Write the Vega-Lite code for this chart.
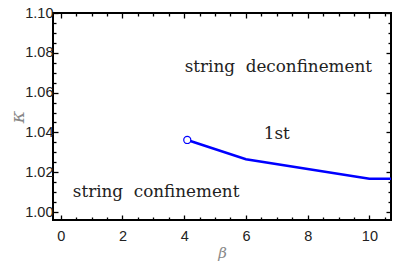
{
  "$schema": "https://vega.github.io/schema/vega-lite/v6.json",
  "width": 338,
  "height": 207,
  "autosize": {"type": "none"},
  "padding": {"left": 53, "top": 13, "right": 8, "bottom": 46},
  "background": "white",
  "config": {
    "view": {"stroke": "black", "strokeWidth": 2},
    "axis": {"domain": false, "grid": false, "labelFont": "Liberation Sans", "labelFontSize": 14.5, "labelColor": "#222", "tickColor": "black", "tickWidth": 1.3, "labelOverlap": false, "labelFlush": false}
  },
  "datasets": {
    "curve": [
      {"beta": 4.1, "kappa": 1.0362},
      {"beta": 6.0, "kappa": 1.0265},
      {"beta": 10.0, "kappa": 1.0167},
      {"beta": 10.7, "kappa": 1.0167}
    ],
    "endpoint": [{"beta": 4.1, "kappa": 1.0362}],
    "labels": [
      {"beta": 7.05, "kappa": 1.0728, "text": "string\u00a0\u00a0deconfinement"},
      {"beta": 7.0, "kappa": 1.039, "text": "1st"},
      {"beta": 3.09, "kappa": 1.0102, "text": "string\u00a0\u00a0confinement"}
    ]
  },
  "layer": [
    {
      "data": {"name": "curve"},
      "mark": {"type": "line", "color": "#0000ff", "strokeWidth": 2.5, "clip": true},
      "encoding": {
        "x": {"field": "beta", "type": "quantitative", "scale": {"domain": [-0.25, 10.7], "nice": false, "zero": false},
          "axis": {"orient": "bottom", "title": "β", "titleFont": "DejaVu Serif", "titleFontStyle": "italic", "titleFontWeight": "normal", "titleFontSize": 15, "titleColor": "#888", "titlePadding": 1,
            "values": [0,0.5,1,1.5,2,2.5,3,3.5,4,4.5,5,5.5,6,6.5,7,7.5,8,8.5,9,9.5,10,10.5],
            "format": ".0f",
            "labelExpr": "datum.value % 2 == 0 ? datum.label : ''",
            "tickSize": {"condition": {"test": "datum.value % 2 == 0", "value": -5}, "value": -3},
            "labelPadding": 14}},
        "y": {"field": "kappa", "type": "quantitative", "scale": {"domain": [0.996, 1.1], "nice": false, "zero": false},
          "axis": {"orient": "left", "title": "κ", "titleFont": "DejaVu Serif", "titleFontStyle": "italic", "titleFontWeight": "normal", "titleFontSize": 19, "titleColor": "#888", "titlePadding": -3,
            "values": [1.0,1.005,1.01,1.015,1.02,1.025,1.03,1.035,1.04,1.045,1.05,1.055,1.06,1.065,1.07,1.075,1.08,1.085,1.09,1.095,1.1],
            "format": ".2f",
            "labelExpr": "abs(round(datum.value*1000) % 20) < 1 ? datum.label : ''",
            "tickSize": {"condition": {"test": "abs(round(datum.value*1000) % 20) < 1", "value": -5}, "value": -3},
            "labelPadding": 5}}
      }
    },
    {
      "data": {"name": "endpoint"},
      "mark": {"type": "point", "shape": "circle", "filled": true, "fill": "white", "stroke": "#0000ff", "strokeWidth": 1.2, "size": 50, "opacity": 1},
      "encoding": {
        "x": {"field": "beta", "type": "quantitative", "axis": null},
        "y": {"field": "kappa", "type": "quantitative", "axis": null}
      }
    },
    {
      "data": {"name": "labels"},
      "mark": {"type": "text", "font": "DejaVu Serif", "fontSize": 16.8, "color": "#222", "align": "center", "baseline": "middle"},
      "encoding": {
        "x": {"field": "beta", "type": "quantitative",
          "axis": {"orient": "top", "title": null, "labels": false,
            "values": [0,0.5,1,1.5,2,2.5,3,3.5,4,4.5,5,5.5,6,6.5,7,7.5,8,8.5,9,9.5,10,10.5],
            "tickSize": {"condition": {"test": "datum.value % 2 == 0", "value": -5}, "value": -3}}},
        "y": {"field": "kappa", "type": "quantitative",
          "axis": {"orient": "right", "title": null, "labels": false,
            "values": [1.0,1.005,1.01,1.015,1.02,1.025,1.03,1.035,1.04,1.045,1.05,1.055,1.06,1.065,1.07,1.075,1.08,1.085,1.09,1.095,1.1],
            "tickSize": {"condition": {"test": "abs(round(datum.value*1000) % 20) < 1", "value": -5}, "value": -3}}},
        "text": {"field": "text", "type": "nominal"}
      }
    }
  ],
  "resolve": {"axis": {"x": "independent", "y": "independent"}}
}
